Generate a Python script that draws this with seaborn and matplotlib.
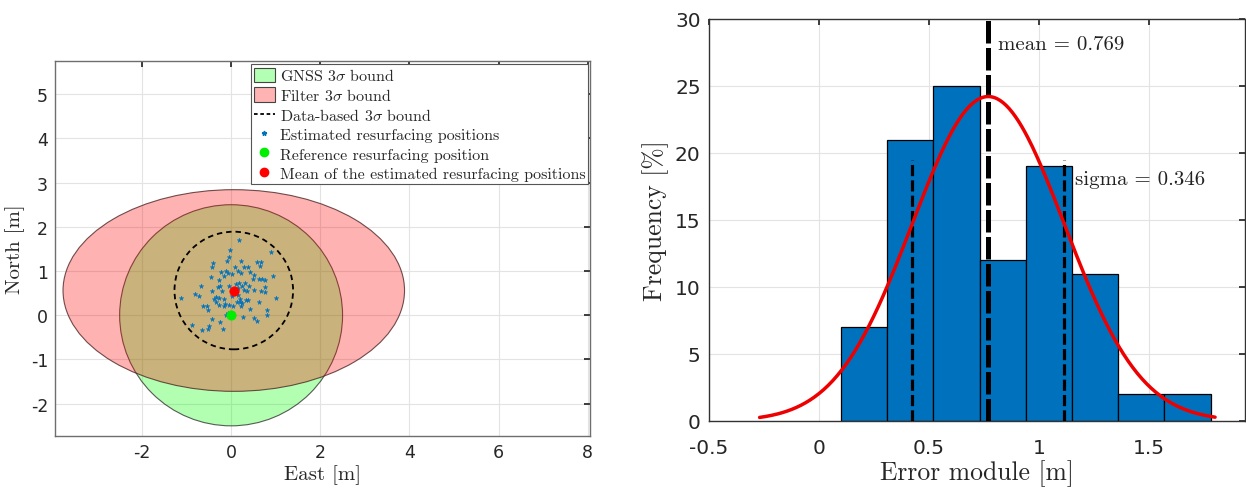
import numpy as np
import pandas as pd
import matplotlib
matplotlib.use("Agg")
import matplotlib.pyplot as plt
from matplotlib.patches import Ellipse, Patch
from matplotlib.lines import Line2D
import seaborn as sns

# ---------------- data: left panel ----------------
est_east = [0.17, 0.89, -0.03, -0.05, -0.10, -0.41, -0.43, 0.23, 0.57, 0.67,
            0.65, 0.37, 0.28, 0.08, 0.16, -0.11, -0.22, -0.06, 0.01, -0.15,
            0.22, 0.42, 0.51, -0.44, 0.95, 0.48, 0.63, 0.70, 0.76, -0.68,
            -0.26, -0.29, -0.04, 0.10, 0.18, 0.24, 0.28, 0.41, 0.36, 0.51,
            0.67, 0.76, 0.75, 1.01, -1.13, -0.81, -0.71, -0.42, -0.39, -0.33,
            -0.28, -0.17, 0.01, 0.16, 0.21, 0.19, 0.25, 0.22, 0.39, 0.33,
            0.63, -0.13, -0.04, -0.28, -0.34, -0.63, -0.54, -0.51, -0.15, 0.42,
            0.27, 0.52, 0.57, 0.81, 0.81, -0.42, -0.25, -0.87, -0.49, -0.52,
            -0.66, -0.19, 0.13, -0.12, -0.27, 0.15, 0.31, -0.06, 0.05, -0.20]
est_north = [1.71, 1.43, 1.48, 1.31, 1.23, 1.18, 1.09, 1.23, 1.21, 1.20,
             1.11, 1.10, 1.09, 1.10, 1.01, 1.01, 0.98, 0.96, 0.94, 0.89,
             0.95, 0.98, 0.92, 0.87, 0.88, 0.82, 0.81, 0.81, 0.80, 0.66,
             0.66, 0.64, 0.66, 0.70, 0.74, 0.66, 0.57, 0.66, 0.56, 0.57,
             0.55, 0.65, 0.53, 0.40, 0.38, 0.48, 0.44, 0.54, 0.37, 0.42,
             0.40, 0.37, 0.43, 0.45, 0.36, 0.31, 0.27, 0.22, 0.35, 0.34,
             0.29, 0.25, 0.24, 0.23, 0.31, 0.22, 0.21, 0.12, 0.21, 0.14,
             -0.04, -0.07, -0.13, 0.13, 0.00, -0.08, -0.16, -0.21, -0.24, -0.31,
             -0.34, -0.31, 0.30, 0.01, 0.79, 0.61, 0.74, 0.05, 0.20, 0.55]
ref_position = [0.0, 0.0]
mean_position = [0.06, 0.56]
gnss_center = [0.0, 0.0]
gnss_radius = 2.5
filter_center = [0.06, 0.56]
filter_semi_axes = [3.83, 2.28]
data_center = [0.06, 0.56]
data_radius = 1.33
left_xticks = [-2, 0, 2, 4, 6, 8]
left_yticks = [-2, -1, 0, 1, 2, 3, 4, 5]

# ---------------- data: right panel ----------------
bin_edges = [0.10, 0.31, 0.52, 0.73, 0.94, 1.15, 1.36, 1.57, 1.78]
bin_freq = [7, 21, 25, 12, 19, 11, 2, 2]
err_mean = 0.769
err_sigma = 0.346
n_samples = 100
right_xticks = [-0.5, 0, 0.5, 1, 1.5]
right_yticks = [0, 5, 10, 15, 20, 25, 30]

# ---------------- style ----------------
sns.set_theme(style="whitegrid")
plt.rcParams["font.family"] = ["DejaVu Sans"]
plt.rcParams["mathtext.fontset"] = "cm"
serif = "cmr10"
tick_col = "#262626"
spine_col = "#6e6e6e"
grid_col = "#e3e3e3"
mblue = "#0072BD"

fig = plt.figure(figsize=(12.46, 4.89), dpi=100)

# ================= left panel =================
axL = fig.add_axes([55/1246, 52/489, 535/1246, 375/489])
axL.add_patch(Ellipse(gnss_center, 2*gnss_radius, 2*gnss_radius,
                      facecolor=(0, 1, 0, 0.3), edgecolor=(0.2, 0.2, 0.2, 0.8), lw=0.8, zorder=2))
axL.add_patch(Ellipse(filter_center, 2*filter_semi_axes[0], 2*filter_semi_axes[1],
                      facecolor=(1, 0, 0, 0.3), edgecolor=(0.3, 0.15, 0.15, 0.8), lw=0.8, zorder=3))
axL.add_patch(Ellipse(data_center, 2*data_radius, 2*data_radius, facecolor="none",
                      edgecolor="black", lw=1.3, linestyle=(0, (3, 2.2)), zorder=4))
df_est = pd.DataFrame({"east": est_east, "north": est_north})
sns.scatterplot(data=df_est, x="east", y="north", ax=axL, marker="*", s=12,
                color=mblue, edgecolor=mblue, linewidth=0.3, zorder=5)
sns.scatterplot(x=[ref_position[0]], y=[ref_position[1]], ax=axL, s=45,
                color="#00ee00", edgecolor="#00ee00", zorder=6)
sns.scatterplot(x=[mean_position[0]], y=[mean_position[1]], ax=axL, s=45,
                color="#ff0000", edgecolor="#ff0000", zorder=7)

axL.set_xlim(-3.95, 8.05)
axL.set_ylim(-2.73, 5.75)
axL.set_xticks(left_xticks)
axL.set_yticks(left_yticks)
axL.set_xticklabels([str(t) for t in left_xticks])
axL.set_yticklabels([str(t) for t in left_yticks])
axL.tick_params(labelsize=12.5, colors=tick_col, direction="in", length=4,
                top=True, right=True, pad=5)
axL.grid(True, color=grid_col, lw=0.8)
for s in axL.spines.values():
    s.set_color(spine_col)
    s.set_linewidth(1.0)
axL.set_xlabel("East [m]", fontfamily=serif, fontsize=15, color=tick_col, labelpad=2)
axL.set_ylabel("North [m]", fontfamily=serif, fontsize=15, color=tick_col, labelpad=4)

handles = [
    Patch(facecolor=(0.7, 1, 0.7), edgecolor="#444444", lw=0.8),
    Patch(facecolor=(1, 0.7, 0.7), edgecolor="#444444", lw=0.8),
    Line2D([], [], color="black", lw=1.3, linestyle=(0, (2, 1.5))),
    Line2D([], [], color=mblue, marker="*", markersize=3.5, lw=0),
    Line2D([], [], color="#00ee00", marker="o", markersize=6, lw=0),
    Line2D([], [], color="#ff0000", marker="o", markersize=6, lw=0),
]
labels = ["GNSS $3\\sigma$ bound", "Filter $3\\sigma$ bound", "Data-based $3\\sigma$ bound",
          "Estimated resurfacing positions", "Reference resurfacing position",
          "Mean of the estimated resurfacing positions"]
leg = axL.legend(handles, labels, loc="upper right", bbox_to_anchor=(0.997, 0.992),
                 borderaxespad=0.0, frameon=True, fancybox=False, framealpha=1,
                 edgecolor="#555555", handlelength=1.3, handleheight=1.0,
                 handletextpad=0.3, labelspacing=0.24, borderpad=0.2,
                 prop={"family": serif, "size": 11.5})
leg.get_frame().set_linewidth(0.8)

# ================= right panel =================
axR = fig.add_axes([709/1246, 67/489, 536/1246, 402/489])
centers = [(a + b) / 2 for a, b in zip(bin_edges[:-1], bin_edges[1:])]
sns.histplot(x=centers, weights=bin_freq, bins=bin_edges, ax=axR, color=mblue,
             alpha=1, edgecolor="black", linewidth=0.9, zorder=2)

xs = np.linspace(-0.27, 1.8, 300)
bw = bin_edges[1] - bin_edges[0]
ys = n_samples * bw * np.exp(-0.5 * ((xs - err_mean) / err_sigma) ** 2) / (err_sigma * np.sqrt(2 * np.pi))
sns.lineplot(x=xs, y=ys, ax=axR, color="#ee0000", lw=2.5, zorder=5)

axR.plot([err_mean, err_mean], [0, 30], color="black", lw=3.6,
         linestyle=(0, (4.5, 0.9)), zorder=4)
for xv in (err_mean - err_sigma, err_mean + err_sigma):
    axR.plot([xv, xv], [0, 19.5], color="black", lw=2.3,
             linestyle=(0, (3.5, 1.3)), zorder=4)
axR.text(0.815, 28.1, "mean = 0.769", fontfamily=serif, fontsize=15,
         va="center", ha="left", color="#222222", zorder=6)
axR.text(1.165, 18.05, "sigma = 0.346", fontfamily=serif, fontsize=15,
         va="center", ha="left", color="#222222", zorder=6)

axR.set_xlim(-0.5, 1.936)
axR.set_ylim(0, 30)
axR.set_xticks(right_xticks)
axR.set_yticks(right_yticks)
axR.set_xticklabels([str(t) for t in right_xticks])
axR.set_yticklabels([str(t) for t in right_yticks])
axR.tick_params(labelsize=14.5, colors=tick_col, direction="in", length=4,
                top=True, right=True, pad=6)
axR.tick_params(axis="x", pad=12)
axR.grid(True, color=grid_col, lw=0.8)
axR.set_axisbelow(True)
for s in axR.spines.values():
    s.set_color("#333333")
    s.set_linewidth(1.0)
axR.set_xlabel("Error module [m]", fontfamily=serif, fontsize=18.5, color=tick_col, labelpad=2)
axR.set_ylabel("Frequency [%]", fontfamily=serif, fontsize=18.5, color=tick_col, labelpad=4)

fig.savefig("out.png", dpi=100)
